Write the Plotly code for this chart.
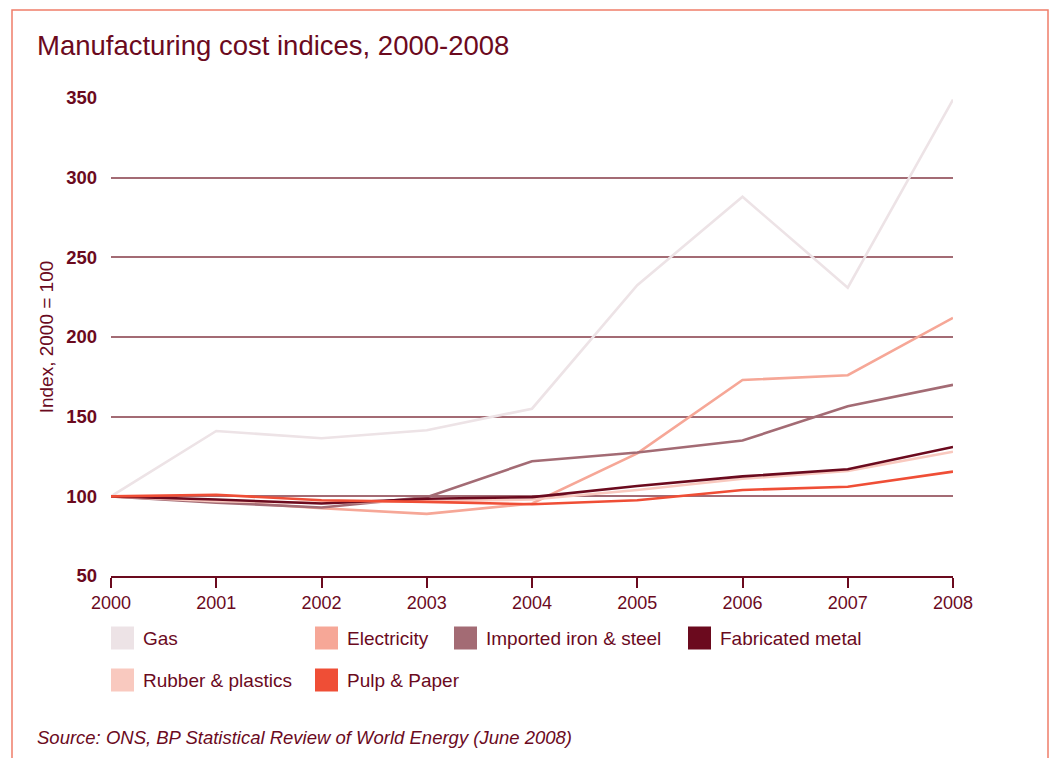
import plotly.graph_objects as go

years = [2000, 2001, 2002, 2003, 2004, 2005, 2006, 2007, 2008]
gas = [100, 141, 136.5, 141.5, 155, 232.5, 288, 231, 349]
electricity = [100, 97, 92.5, 89, 95.5, 127, 173, 176, 212]
iron_steel = [100, 96, 93, 99.5, 122, 127.5, 135, 156.5, 170]
fabricated = [100, 98, 95.5, 98.5, 99.5, 106.5, 112.5, 117, 131]
rubber = [100, 97, 96, 97, 98, 104, 111, 116, 128]
pulp = [100, 101, 97.5, 96.5, 95, 97.5, 104, 106, 115.5]

series_names = ["Gas", "Electricity", "Imported iron & steel", "Fabricated metal",
                "Rubber & plastics", "Pulp & Paper"]
series_values = [gas, electricity, iron_steel, fabricated, rubber, pulp]
colors = ["#EDE3E6", "#F6A797", "#A36B74", "#6B0A1E", "#F9C9BF", "#EF4E36"]
draw_order = [0, 1, 2, 4, 3, 5]

y_ticks = [50, 100, 150, 200, 250, 300, 350]

TEXT = "#6B0A1E"
FONT = "Liberation Sans, Arial, sans-serif"

fig = go.Figure()
for i in draw_order:
    fig.add_trace(go.Scatter(x=years, y=series_values[i], mode="lines",
                             name=series_names[i],
                             line=dict(color=colors[i], width=2.6),
                             showlegend=False))

W, H = 1053, 758
ml, mr, mt, mb = 111, 100, 98, 182
pw = W - ml - mr
ph = H - mt - mb

def px_x(p):
    return (p - ml) / pw

def px_y(p):
    return (H - mb - p) / ph

fig.update_layout(
    width=W, height=H,
    margin=dict(l=ml, r=mr, t=mt, b=mb),
    paper_bgcolor="white", plot_bgcolor="white",
    font=dict(family=FONT, color=TEXT),
    showlegend=False,
    xaxis=dict(range=[2000, 2008], tickvals=years, showgrid=False, zeroline=False,
               showline=True, linecolor=TEXT, linewidth=1.5,
               ticks="outside", ticklen=10, tickwidth=1.5, tickcolor=TEXT,
               tickfont=dict(size=18, color=TEXT, family=FONT)),
    yaxis=dict(range=[50, 350], tickvals=y_ticks, showgrid=True, gridcolor="#A36B74",
               gridwidth=1.5, zeroline=False, showline=False, ticks="",
               ticklabelstandoff=13,
               tickfont=dict(size=18.5, color=TEXT, family=FONT, weight="bold"),
               title=dict(text="Index, 2000 = 100", font=dict(size=19, color=TEXT),
                          standoff=7)),
)

# border
fig.add_shape(type="rect", xref="paper", yref="paper",
              x0=px_x(12), x1=px_x(1048), y0=px_y(10), y1=px_y(800),
              line=dict(color="#F07E6A", width=1.5), fillcolor="rgba(0,0,0,0)",
              layer="below")

# title
fig.add_annotation(xref="paper", yref="paper", x=px_x(35), y=px_y(45),
                   xanchor="left", yanchor="middle", showarrow=False,
                   text="Manufacturing cost indices, 2000-2008",
                   font=dict(size=27.5, color=TEXT, family=FONT))

# source
fig.add_annotation(xref="paper", yref="paper", x=px_x(35), y=px_y(737),
                   xanchor="left", yanchor="middle", showarrow=False,
                   text="<i>Source: ONS, BP Statistical Review of World Energy (June 2008)</i>",
                   font=dict(size=18.5, color=TEXT, family=FONT))

# legend
leg_pos = [(111, 638), (315, 638), (454, 638), (688, 638), (111, 680), (315, 680)]
sw = 23
for i, (lx, ly) in enumerate(leg_pos):
    fig.add_shape(type="rect", xref="paper", yref="paper",
                  x0=px_x(lx), x1=px_x(lx + sw), y0=px_y(ly - sw / 2), y1=px_y(ly + sw / 2),
                  line=dict(width=0), fillcolor=colors[i])
    fig.add_annotation(xref="paper", yref="paper", x=px_x(lx + sw + 7), y=px_y(ly),
                       xanchor="left", yanchor="middle", showarrow=False,
                       text=series_names[i], font=dict(size=19, color=TEXT, family=FONT))

fig.write_html("out.html")
